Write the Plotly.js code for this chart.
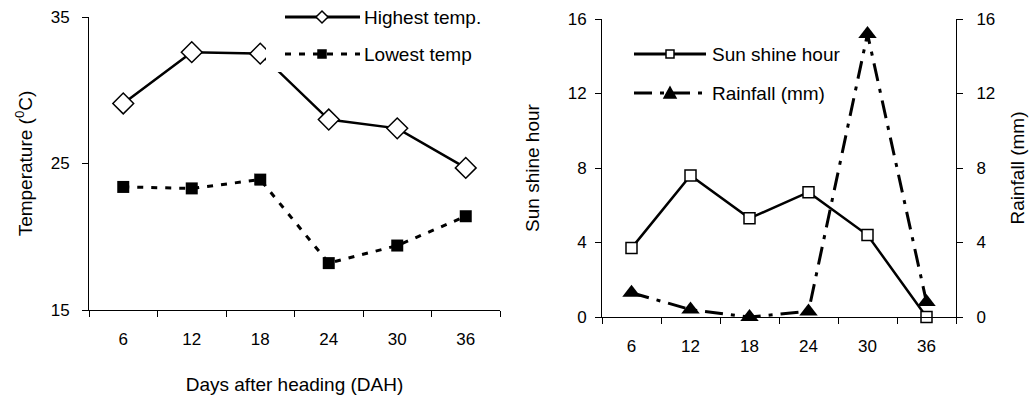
<!DOCTYPE html>
<html><head><meta charset="utf-8">
<script src="https://cdn.plot.ly/plotly-3.0.1.min.js"></script>
<style>html,body{margin:0;padding:0;background:#fff}#chart{width:1032px;height:398px}</style>
</head><body><div id="chart"></div>
<script>
// ---- data ----
const days = [6, 12, 18, 24, 30, 36];
const highestTemp = [29.1, 32.6, 32.5, 28.0, 27.4, 24.7];
const lowestTemp = [23.4, 23.3, 23.9, 18.2, 19.4, 21.4];
const sunshineHour = [3.7, 7.6, 5.3, 6.7, 4.4, 0];
const rainfall = [1.3, 0.4, 0, 0.3, 15.2, 0.8];
const tempTicks = [15, 25, 35];
const sunTicks = [0, 4, 8, 12, 16];
const rainTicks = [0, 4, 8, 12, 16];
const dayBoundaries = [3, 9, 15, 21, 27, 33, 39];
const names = {hi: 'Highest temp.', lo: 'Lowest temp', sun: 'Sun shine hour', rain: 'Rainfall (mm)'};

// ---- helpers ----
const W = 1032, H = 398;
const FONT = 'Liberation Sans, Arial, sans-serif';
const px = v => v / W, py = v => 1 - v / H;

const traces = [
  {x: days, y: highestTemp, name: names.hi, xaxis: 'x', yaxis: 'y', mode: 'lines+markers',
   line: {color: '#000', width: 2.5}, cliponaxis: false,
   marker: {symbol: 'diamond', size: 16, color: '#fff', line: {color: '#000', width: 1.5}}},
  {x: days, y: lowestTemp, name: names.lo, xaxis: 'x', yaxis: 'y', mode: 'lines+markers',
   line: {color: '#000', width: 3, dash: '6px,8px'}, cliponaxis: false,
   marker: {symbol: 'square', size: 12, color: '#000'}},
  {x: days, y: sunshineHour, name: names.sun, xaxis: 'x2', yaxis: 'y2', mode: 'lines+markers',
   line: {color: '#000', width: 2.5}, cliponaxis: false,
   marker: {symbol: 'square', size: 11, color: '#fff', line: {color: '#000', width: 1.5}}},
  {x: days, y: rainfall, name: names.rain, xaxis: 'x2', yaxis: 'y3', mode: 'lines+markers',
   line: {color: '#000', width: 3, dash: '18px,8px,4px,8px'}, cliponaxis: false,
   marker: {symbol: 'triangle-up', size: 16, color: '#000'}}
];
traces.forEach(t => t.showlegend = false);

const axisFont = {family: FONT, size: 17, color: '#000'};
const titleFont = {family: FONT, size: 19, color: '#000'};
function xAxis(domain, anchor, title) {
  const a = {domain, anchor, range: [3, 39], tickvals: days, ticktext: days.map(String),
    ticks: 'outside', ticklen: 14, tickcolor: 'rgba(0,0,0,0)', tickfont: axisFont,
    showline: true, linecolor: '#000', linewidth: 1, showgrid: false, zeroline: false,
    minor: {tickvals: dayBoundaries, ticks: 'outside', ticklen: 6, tickcolor: '#000', tickwidth: 1, showgrid: false},
    automargin: false, fixedrange: true};
  if (title) a.title = {text: title, font: titleFont, standoff: 29};
  return a;
}
function yAxis(domain, anchor, range, tickvals, title, standoff, labelOff, extra) {
  return Object.assign({domain, anchor, range, tickvals, ticks: 'outside', ticklen: 6, tickcolor: '#000',
    tickfont: axisFont, ticklabelstandoff: labelOff, showline: true, linecolor: '#000', linewidth: 1,
    showgrid: false, zeroline: false, automargin: false, fixedrange: true,
    title: {text: title, font: titleFont, standoff}}, extra || {});
}

// manual legend (keys are decoration, not data)
const shapes = [];
const annotations = [];
shapes.push({type: 'rect', xref: 'paper', yref: 'paper', x0: px(266), x1: px(520), y0: py(72), y1: py(0),
  fillcolor: '#fff', line: {width: 0}, layer: 'above'});
function legLine(x0, x1, y, dash) {
  shapes.push({type: 'line', xref: 'paper', yref: 'paper', x0: px(x0), x1: px(x1), y0: py(y), y1: py(y),
    line: {color: '#000', width: 3, dash: dash || 'solid'}, layer: 'above'});
}
function legMarker(x, y, path, fill) {
  shapes.push({type: 'path', xref: 'paper', yref: 'paper', xsizemode: 'pixel', ysizemode: 'pixel',
    xanchor: px(x), yanchor: py(y), path, fillcolor: fill, line: {color: '#000', width: 1.5}, layer: 'above'});
}
function legText(x, y, text) {
  annotations.push({xref: 'paper', yref: 'paper', x: px(x), y: py(y), xanchor: 'left', yanchor: 'middle',
    text, showarrow: false, font: {family: FONT, size: 19, color: '#000'}});
}
const diamond = 'M-6,0L0,6L6,0L0,-6Z';
const sq = 'M-4,-4L4,-4L4,4L-4,4Z';
const tri = 'M-6,-5L6,-5L0,6Z';
legLine(285, 360, 17); legMarker(322, 17, diamond, '#fff'); legText(362, 17, names.hi);
legLine(285, 360, 54, '6px,8px'); legMarker(322, 54, sq, '#000'); legText(362, 54, names.lo);
legLine(634, 706, 54); legMarker(670, 54, sq, '#fff'); legText(710, 54, names.sun);
legLine(634, 706, 93, '18px,8px,4px,8px'); legMarker(670, 93, tri, '#000'); legText(710, 93, names.rain);

const layout = {
  width: W, height: H, margin: {l: 0, r: 0, t: 0, b: 0}, paper_bgcolor: '#fff', plot_bgcolor: 'rgba(0,0,0,0)',
  showlegend: false, font: {family: FONT, size: 17, color: '#000'},
  xaxis: xAxis([px(89), px(500)], 'y', 'Days after heading (DAH)'),
  yaxis: yAxis([1 - 310 / H, 1 - 17 / H], 'x', [15, 35], tempTicks, 'Temperature (<sup>0</sup>C)', 13, 9),
  xaxis2: xAxis([px(602), px(956)], 'y2'),
  yaxis2: yAxis([1 - 317 / H, 1 - 19 / H], 'x2', [0, 16], sunTicks, 'Sun shine hour', 23, 5),
  yaxis3: yAxis([1 - 317 / H, 1 - 19 / H], 'x2', [0, 16], rainTicks, 'Rainfall (mm)', 16, 10, {overlaying: 'y2', side: 'right'}),
  shapes, annotations
};
Plotly.newPlot('chart', traces, layout, {displayModeBar: false, staticPlot: true});
</script></body></html>
